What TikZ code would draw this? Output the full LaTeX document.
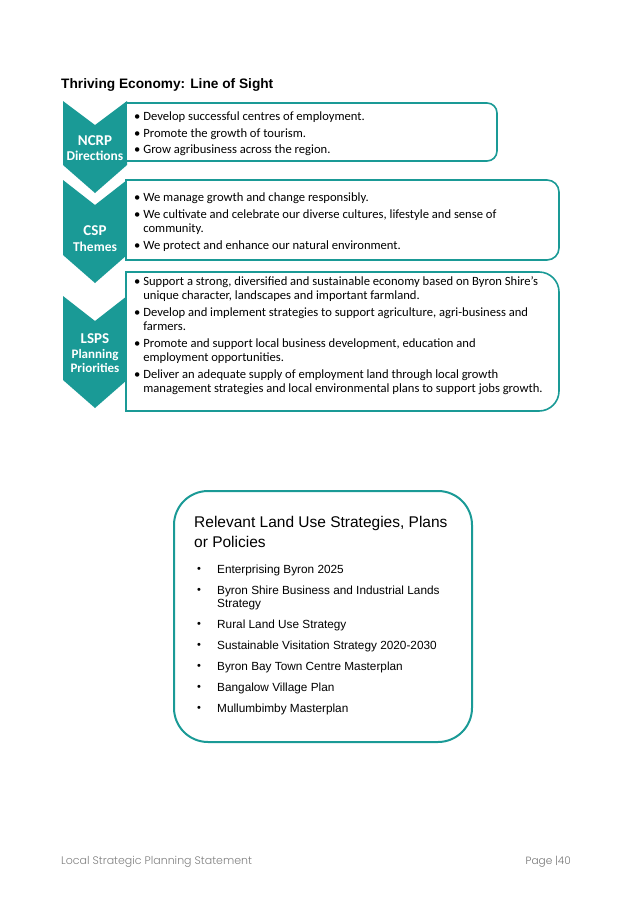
\documentclass[tikz,border=0pt]{standalone}
\usepackage{fontspec}
\setmainfont{Carlito}
\newfontfamily\arialf{Liberation Sans}
\begin{document}
\begin{tikzpicture}[x=1pt,y=-1pt]
\definecolor{teal1}{HTML}{1A9A96}
\tikzset{chev/.style={fill=teal1,draw=none},
 tbox/.style={draw=teal1,line width=1.6pt,fill=white},
 btxt/.style={anchor=north west,align=left,font=\fontsize{12.6}{14.5}\selectfont,inner sep=0pt},
 ctxt/.style={text=white,align=center,inner sep=0pt}}
\useasboundingbox (0,0) rectangle (637,902);
\node[anchor=west,inner sep=0pt,font=\arialf\bfseries\fontsize{13.7}{15}\selectfont] (title) at (61,85) {Thriving Economy: Line of Sight};
% chevrons
\fill[chev] (63,101) -- (95,125) -- (127,101) -- (127,165) -- (95,193) -- (63,165) -- cycle;
\fill[chev] (63,180) -- (95,205) -- (127,180) -- (127,255) -- (95,283) -- (63,255) -- cycle;
\fill[chev] (63,296) -- (95,321) -- (127,296) -- (127,380) -- (95,408) -- (63,380) -- cycle;
% boxes
\draw[tbox] (126,103) -- (487,103) arc[start angle=-90,end angle=0,radius=10] -- (497,151) arc[start angle=0,end angle=90,radius=10] -- (126,161) -- cycle;
\draw[tbox] (126,180) -- (547,180) arc[start angle=-90,end angle=0,radius=12] -- (559,248) arc[start angle=0,end angle=90,radius=12] -- (126,260) -- cycle;
\draw[tbox] (126,272) -- (539,272) arc[start angle=-90,end angle=0,radius=20] -- (559,391) arc[start angle=0,end angle=90,radius=20] -- (126,411) -- cycle;
\node[ctxt,font=\bfseries\fontsize{15}{16}\selectfont] (n1) at (95,141) {NCRP};
\node[ctxt,font=\bfseries\fontsize{13.5}{14}\selectfont] (n1b) at (95,156) {Directions};
\node[ctxt,font=\bfseries\fontsize{15}{16}\selectfont] (n2) at (95,231) {CSP};
\node[ctxt,font=\bfseries\fontsize{13.5}{14}\selectfont] (n2b) at (95,247) {Themes};
\node[ctxt,font=\bfseries\fontsize{15}{16}\selectfont] (n3) at (95,339) {LSPS};
\node[ctxt,font=\bfseries\fontsize{13}{14.5}\selectfont] (n3b) at (95,361) {Planning\\Priorities};
\node[btxt] (t1) at (134,112) {\textbullet\ Develop successful centres of employment.\\[2pt]\textbullet\ Promote the growth of tourism.\\[2pt]\textbullet\ Grow agribusiness across the region.};
\node[btxt] (t2) at (134,193) {\textbullet\ We manage growth and change responsibly.\\[2pt]\textbullet\ We cultivate and celebrate our diverse cultures, lifestyle and sense of\\\phantom{\textbullet\ }community.\\[2pt]\textbullet\ We protect and enhance our natural environment.};
\node[btxt] (t3) at (134,276) {\textbullet\ Support a strong, diversified and sustainable economy based on Byron Shire's\\\phantom{\textbullet\ }unique character, landscapes and important farmland.\\[2pt]\textbullet\ Develop and implement strategies to support agriculture, agri-business and\\\phantom{\textbullet\ }farmers.\\[2pt]\textbullet\ Promote and support local business development, education and\\\phantom{\textbullet\ }employment opportunities.\\[2pt]\textbullet\ Deliver an adequate supply of employment land through local growth\\\phantom{\textbullet\ }management strategies and local environmental plans to support jobs growth.};
% lower box
\draw[draw=teal1,line width=2pt,rounded corners=34pt] (174,491) rectangle (472,742);
\node[anchor=north west,inner sep=0pt,align=left,font=\arialf\fontsize{15.5}{20}\selectfont] (lt) at (194,516) {Relevant Land Use Strategies, Plans\\or Policies};
\foreach \t/\y in {Enterprising Byron 2025/570, Byron Shire Business and Industrial Lands/591, Rural Land Use Strategy/625, Sustainable Visitation Strategy 2020-2030/646, Byron Bay Town Centre Masterplan/667, Bangalow Village Plan/688, Mullumbimby Masterplan/709}{
 \node[anchor=west,inner sep=0pt,font=\arialf\fontsize{11.8}{12}\selectfont] at (217,\y) {\t};
 \node[inner sep=0pt,font=\arialf\fontsize{11}{12}\selectfont] at (199,\y) {\textbullet};}
\node[anchor=west,inner sep=0pt,font=\arialf\fontsize{11.8}{12}\selectfont] (st) at (217,605) {Strategy};
\node[anchor=west,inner sep=0pt,text=gray,font=\fontspec{Poppins Light}\fontsize{11}{12}\selectfont] (f1) at (61,862) {Local Strategic Planning Statement};
\node[anchor=east,inner sep=0pt,text=gray!90!black,font=\fontspec{Poppins Light}\fontsize{10.5}{12}\selectfont] (f2) at (571,862) {Page |40};
\end{tikzpicture}
\end{document}
